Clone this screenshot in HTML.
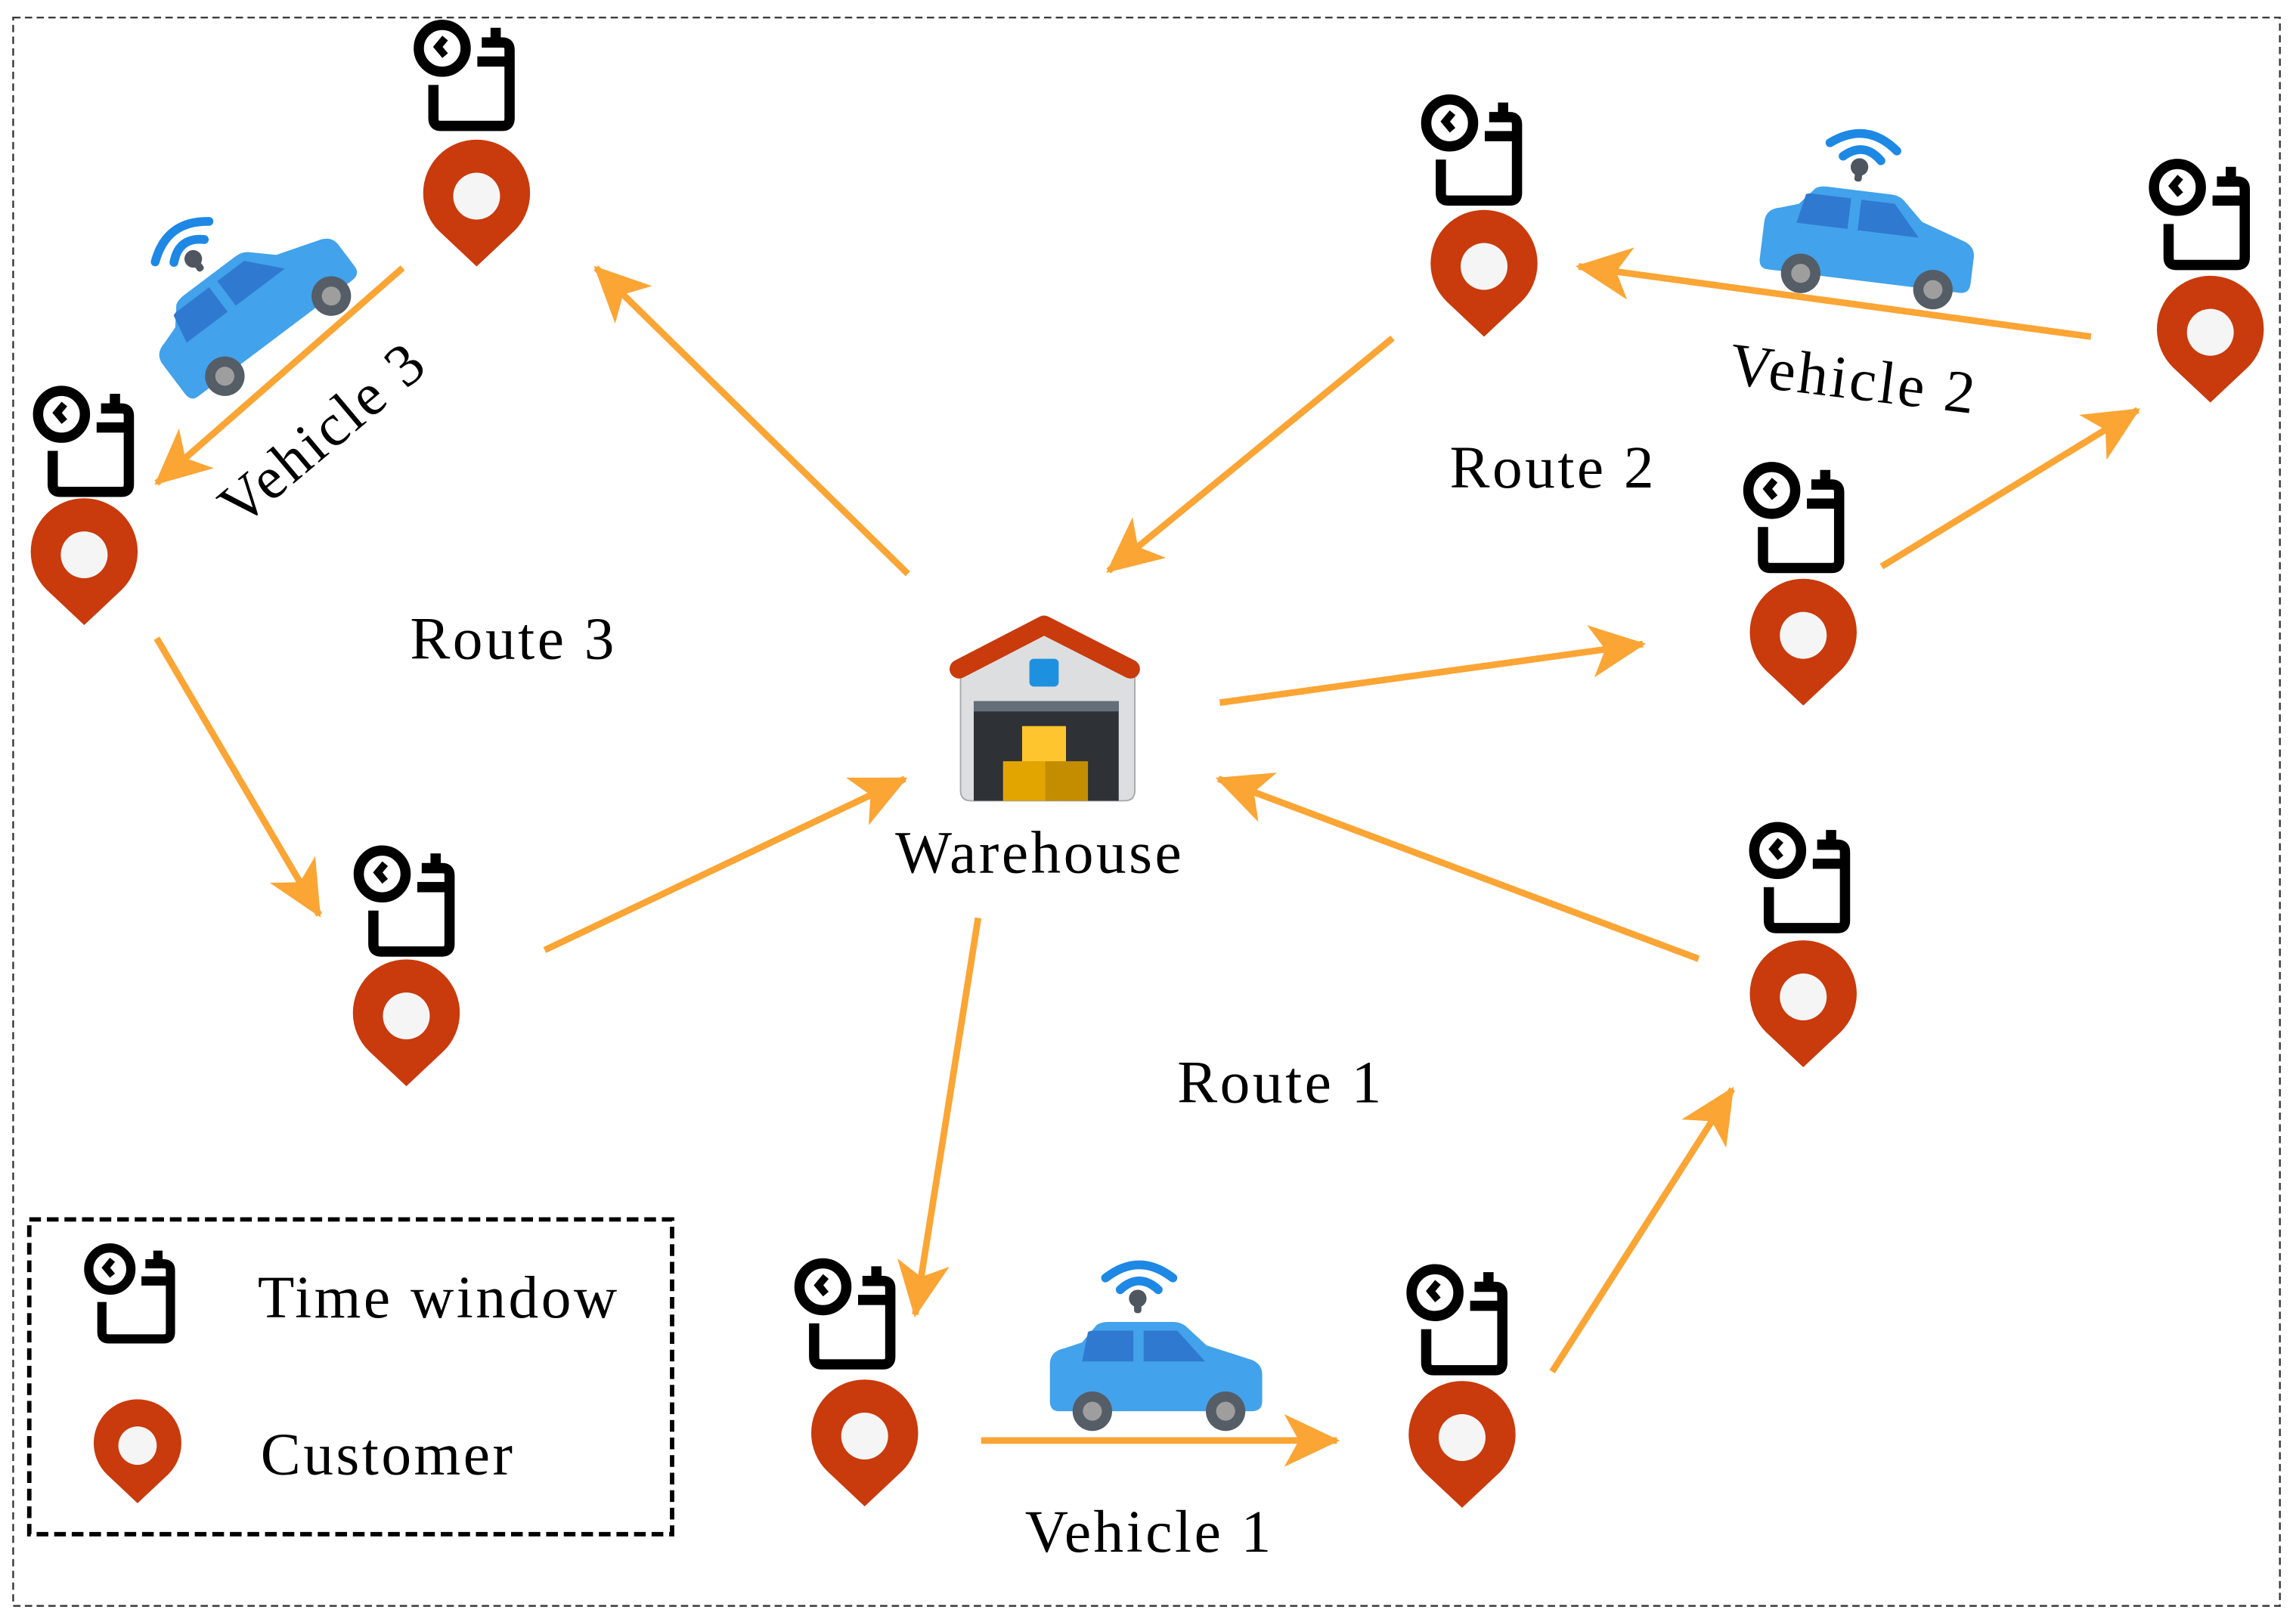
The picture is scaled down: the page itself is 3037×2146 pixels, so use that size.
<!DOCTYPE html>
<html><head><meta charset="utf-8"><style>
html,body{margin:0;padding:0;background:#fff;}
svg{display:block;}
text{font-family:"Liberation Serif",serif;fill:#000;letter-spacing:1.8px;}
</style></head><body>
<svg width="3037" height="2146" viewBox="0 0 1568 1108" preserveAspectRatio="none" xmlns="http://www.w3.org/2000/svg">
<defs>
<marker id="ah" markerUnits="userSpaceOnUse" markerWidth="44" markerHeight="40" refX="36" refY="18" orient="auto" viewBox="0 0 44 40">
<path d="M0,0 L38,18 L0,36 L10,18 Z" fill="#FBA535"/>
</marker>
<g id="tw" fill="none" stroke="#000" stroke-width="7">
<circle cx="20" cy="21" r="16"/>
<path d="M14,46 V69 Q14,74 19,74 H61 Q66,74 66,69 V22 Q66,17 61,17 H47" stroke-linejoin="round"/>
<path d="M44,30 H64"/>
<path d="M56.5,7 V17"/>
<path d="M22,14 L17,20 L22,26" stroke-width="5"/>
</g>
<g id="pin">
<path d="M36.5,84 L11,60 A36.5,36.5 0 1 1 62,60 Z" fill="#C93A0C"/>
<circle cx="36.5" cy="36" r="16" fill="#F5F5F5"/>
</g>
<g id="car">
<path d="M38,16 Q61,-2 84,16" fill="none" stroke="#1E88E5" stroke-width="6" stroke-linecap="round"/>
<path d="M48,24 Q61,12 74,24" fill="none" stroke="#1E88E5" stroke-width="6" stroke-linecap="round"/>
<circle cx="60" cy="30" r="6" fill="#4F5660"/>
<rect x="57.5" y="30" width="5" height="10" rx="2" fill="#4F5660"/>
<path d="M0,75 Q0,66 10,64 L22,60 L32,48 Q35,46 40,46 L84,46 Q90,46 94,50 L107,62 L138,72 Q145,75 145,82 L145,100 Q145,107 138,107 L6,107 Q0,107 0,100 Z" fill="#42A2EB"/>
<path d="M26,53 Q27,52 29,52 L57,52 L57,73 L22,73 Z" fill="#2F7AD0"/>
<path d="M64,52 L87,52 L106,73 L64,73 Z" fill="#2F7AD0"/>
<circle cx="29" cy="107" r="13.5" fill="#555D66"/><circle cx="29" cy="107" r="6.5" fill="#9E9E9E"/>
<circle cx="120" cy="107" r="13.5" fill="#555D66"/><circle cx="120" cy="107" r="6.5" fill="#9E9E9E"/>
</g>
</defs>

<rect x="9" y="12" width="1548" height="1085" fill="none" stroke="#333" stroke-width="1.2" stroke-dasharray="5,3"/>

<g stroke="#FBA535" stroke-width="4.5" fill="none" marker-end="url(#ah)">
<line x1="620" y1="392" x2="407" y2="183"/>
<line x1="275" y1="183" x2="107" y2="330"/>
<line x1="107" y1="436" x2="218" y2="625"/>
<line x1="372" y1="649" x2="618" y2="532"/>
<line x1="668" y1="627" x2="625" y2="898"/>
<line x1="670" y1="984" x2="913" y2="984"/>
<line x1="1060" y1="937" x2="1183" y2="744"/>
<line x1="1160" y1="655" x2="832" y2="532"/>
<line x1="833" y1="480" x2="1122" y2="440"/>
<line x1="1285" y1="387" x2="1460" y2="280"/>
<line x1="1428" y1="230" x2="1078" y2="182"/>
<line x1="951" y1="231" x2="757" y2="390"/>
</g>

<use href="#tw" x="282" y="12"/><use href="#pin" x="289" y="98"/>
<use href="#tw" x="22" y="262"/><use href="#pin" x="21" y="343"/>
<use href="#tw" x="241" y="576"/><use href="#pin" x="241" y="658"/>
<use href="#tw" x="542" y="858"/><use href="#pin" x="554" y="945"/>
<use href="#tw" x="960" y="862"/><use href="#pin" x="962" y="946"/>
<use href="#tw" x="1194" y="560"/><use href="#pin" x="1195" y="645"/>
<use href="#tw" x="1190" y="314"/><use href="#pin" x="1195" y="398"/>
<use href="#tw" x="970" y="63"/><use href="#pin" x="977" y="146"/>
<use href="#tw" x="1467" y="107"/><use href="#pin" x="1473" y="191"/>

<path d="M656,460 L713,432 L775,460 L775,540 Q775,547 768,547 L663,547 Q656,547 656,540 Z" fill="#DCDEE0" stroke="#A8AAAC" stroke-width="1"/>
<rect x="665" y="479" width="99" height="68" fill="#2E3135"/>
<rect x="665" y="479" width="99" height="7" fill="#636E78"/>
<rect x="698" y="496" width="30" height="25" fill="#FFC52E"/>
<rect x="685" y="520" width="29" height="27" fill="#E2A500"/>
<rect x="714" y="520" width="29" height="27" fill="#C48D00"/>
<rect x="703" y="450" width="20" height="19" rx="3" fill="#1E90E0"/>
<polyline points="655,457 713,427 772,457" fill="none" stroke="#C93A0C" stroke-width="13" stroke-linecap="round" stroke-linejoin="round"/>

<use href="#car" x="717" y="857"/>
<use href="#car" transform="translate(1214,77) rotate(7)"/>
<use href="#car" transform="translate(66,189) rotate(-37)"/>

<g font-size="41">
<text x="280" y="450">Route 3</text>
<text x="990" y="333">Route 2</text>
<text x="804" y="753">Route 1</text>
<text x="710" y="596" text-anchor="middle">Warehouse</text>
<text x="700" y="1060">Vehicle 1</text>
<text x="1180" y="262" transform="rotate(7 1180 262)">Vehicle 2</text>
<text x="164" y="361" transform="rotate(-40 164 361)">Vehicle 3</text>
</g>

<rect x="20" y="833" width="439" height="215" fill="none" stroke="#000" stroke-width="3" stroke-dasharray="8,4"/>
<g transform="translate(57,848) scale(0.9)"><use href="#tw"/></g>
<g transform="translate(64,958) scale(0.82)"><use href="#pin"/></g>
<text x="176" y="900" font-size="41">Time window</text>
<text x="178" y="1007" font-size="41">Customer</text>
</svg>
</body></html>
